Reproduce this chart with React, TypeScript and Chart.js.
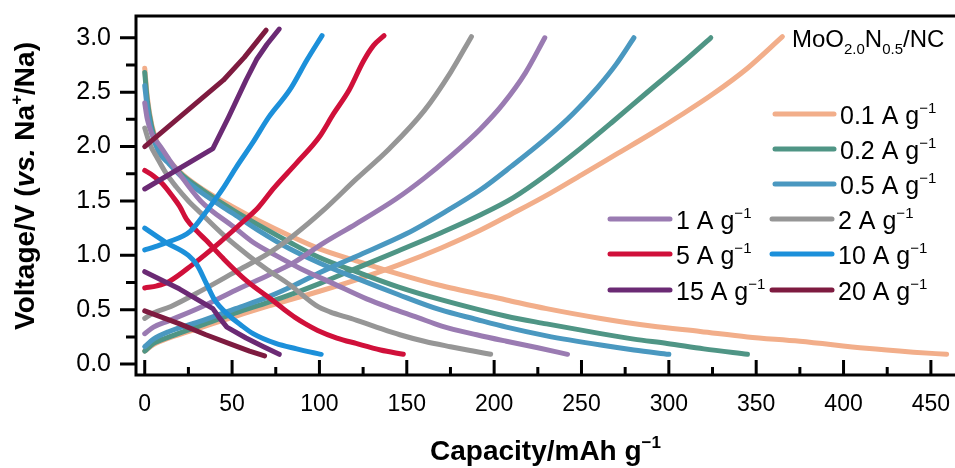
import React, { useEffect, useRef } from 'react';
import { Chart, registerables } from 'chart.js';

Chart.register(...registerables);

const FONT = "'Liberation Sans', Arial, sans-serif";

// ---- Data (capacity mAh/g, voltage V) ----
const cap01C = [0, 5, 14, 33, 52, 71, 85, 100, 121, 145, 170, 192, 210, 232, 250, 270, 290, 307, 325, 345, 365];
const v01C = [0.12, 0.18, 0.24, 0.34, 0.44, 0.535, 0.6, 0.67, 0.775, 0.91, 1.07, 1.23, 1.38, 1.57, 1.74, 1.93, 2.12, 2.29, 2.48, 2.72, 3.01];
const cap01D = [0, 1.5, 4, 8, 14, 22, 33, 51, 65, 83, 100, 121, 145, 170, 207, 230, 261, 290, 318, 345, 375, 413, 440, 459];
const v01D = [2.72, 2.45, 2.2, 2.0, 1.87, 1.74, 1.61, 1.44, 1.32, 1.18, 1.06, 0.95, 0.83, 0.72, 0.59, 0.51, 0.42, 0.35, 0.3, 0.25, 0.21, 0.145, 0.11, 0.09];

const cap02C = [0, 5, 14, 33, 52, 71, 87, 100, 121, 145, 170, 192, 211, 230, 250, 268, 287, 307, 324];
const v02C = [0.12, 0.19, 0.25, 0.36, 0.47, 0.57, 0.66, 0.74, 0.88, 1.04, 1.21, 1.37, 1.53, 1.74, 1.99, 2.23, 2.49, 2.76, 3.0];
const cap02D = [0, 1.5, 4, 8, 14, 22, 33, 51, 65, 83, 100, 121, 145, 170, 207, 230, 261, 280, 299, 320, 345];
const v02D = [2.68, 2.42, 2.18, 1.98, 1.86, 1.73, 1.6, 1.41, 1.28, 1.12, 0.98, 0.85, 0.71, 0.59, 0.44, 0.37, 0.28, 0.23, 0.19, 0.14, 0.09];

const cap05C = [0, 5, 14, 33, 52, 71, 85, 100, 121, 150, 172, 192, 210, 230, 245, 259, 270, 280];
const v05C = [0.16, 0.23, 0.3, 0.4, 0.51, 0.62, 0.72, 0.84, 0.99, 1.2, 1.4, 1.6, 1.82, 2.08, 2.3, 2.54, 2.76, 3.0];
const cap05D = [0, 1.5, 4, 8, 14, 22, 33, 51, 65, 83, 100, 121, 145, 169, 190, 207, 230, 261, 280, 300];
const v05D = [2.56, 2.35, 2.13, 1.95, 1.84, 1.71, 1.57, 1.38, 1.23, 1.06, 0.93, 0.79, 0.64, 0.5, 0.41, 0.34, 0.26, 0.175, 0.13, 0.09];

const cap1C = [0, 5, 14, 33, 52, 71, 85, 102, 121, 144, 160, 175, 192, 205, 218, 229];
const v1C = [0.28, 0.34, 0.4, 0.53, 0.68, 0.82, 0.93, 1.11, 1.29, 1.52, 1.71, 1.91, 2.16, 2.39, 2.68, 3.0];
const cap1D = [0, 1.5, 4, 9, 14, 18, 32, 51, 62, 75, 89, 108, 127, 140, 156, 170, 190, 207, 225, 242];
const v1D = [2.4, 2.25, 2.12, 2.0, 1.88, 1.79, 1.5, 1.26, 1.12, 1.0, 0.88, 0.74, 0.6, 0.52, 0.43, 0.35, 0.27, 0.21, 0.15, 0.09];

const cap2C = [0, 5, 15, 33, 52, 71, 85, 102, 121, 140, 160, 175, 187];
const v2C = [0.42, 0.47, 0.53, 0.68, 0.85, 1.02, 1.18, 1.41, 1.7, 1.98, 2.33, 2.68, 3.01];
const cap2D = [0, 3, 7, 12, 18, 25, 32, 47, 60, 70, 83, 98, 106, 118, 131, 146, 160, 175, 188, 198];
const v2D = [2.17, 2.02, 1.9, 1.76, 1.63, 1.5, 1.39, 1.16, 0.99, 0.87, 0.73, 0.54, 0.48, 0.42, 0.35, 0.27, 0.21, 0.16, 0.12, 0.09];

const cap5C = [0, 7, 14, 27, 43, 57, 65, 74, 87, 100, 108, 117, 125, 131, 137];
const v5C = [0.7, 0.72, 0.76, 0.91, 1.12, 1.32, 1.44, 1.62, 1.85, 2.09, 2.3, 2.52, 2.78, 2.93, 3.02];
const cap5D = [0, 5, 10, 16, 20, 24, 30, 35, 45, 58, 72, 80, 86, 92, 99, 110, 121, 135, 148];
const v5D = [1.78, 1.73, 1.66, 1.54, 1.45, 1.33, 1.22, 1.14, 0.97, 0.77, 0.6, 0.5, 0.43, 0.37, 0.31, 0.24, 0.19, 0.13, 0.09];

const cap10C = [0, 6, 13, 26, 36, 45, 52, 62, 71, 83, 93, 101.5];
const v10C = [1.05, 1.08, 1.12, 1.22, 1.42, 1.62, 1.8, 2.04, 2.27, 2.52, 2.8, 3.02];
const cap10D = [0, 12, 25, 30, 35, 40, 48, 55, 62, 75, 87, 95, 101];
const v10D = [1.25, 1.12, 1.0, 0.91, 0.75, 0.59, 0.45, 0.36, 0.28, 0.19, 0.14, 0.11, 0.09];

const cap15C = [0, 39, 48, 58, 64, 70, 77];
const v15C = [1.61, 1.98, 2.27, 2.61, 2.8, 2.94, 3.08];
const cap15D = [0, 20, 39, 43, 47, 58, 68, 77];
const v15D = [0.85, 0.69, 0.51, 0.42, 0.34, 0.24, 0.16, 0.09];

const cap20C = [0, 45, 57, 69.5];
const v20C = [2.0, 2.61, 2.82, 3.07];
const cap20D = [0, 10, 20, 35, 50, 60, 68.6];
const v20D = [0.49, 0.43, 0.37, 0.27, 0.18, 0.12, 0.075];

const rateLabels = ['0.1', '0.2', '0.5', '1', '2', '5', '10', '15', '20'];
const rateColors = ['#F2AE8A', '#4F9585', '#4A98C0', '#9A7BB2', '#969696', '#D0103A', '#1C90DA', '#6B2A74', '#7E1B40'];
const kinked = [false, false, false, false, false, false, false, true, true];

const xMajor = [0, 50, 100, 150, 200, 250, 300, 350, 400, 450];
const xMinor = [25, 75, 125, 175, 225, 275, 325, 375, 425];
const yMajor = [0, 0.5, 1.0, 1.5, 2.0, 2.5, 3.0];
const yMinor = [0.25, 0.75, 1.25, 1.75, 2.25, 2.75];

const curveSets: [number, number[], number[]][] = [
  [0, cap01C, v01C], [0, cap01D, v01D],
  [1, cap02C, v02C], [1, cap02D, v02D],
  [2, cap05C, v05C], [2, cap05D, v05D],
  [3, cap1C, v1C], [3, cap1D, v1D],
  [4, cap2C, v2C], [4, cap2D, v2D],
  [5, cap5C, v5C], [5, cap5D, v5D],
  [6, cap10C, v10C], [6, cap10D, v10D],
  [7, cap15C, v15C], [7, cap15D, v15D],
  [8, cap20C, v20C], [8, cap20D, v20D],
];

// legend layout: [rateIndex, lineX1, lineX2, y]
const legendSlots: [number, number, number, number][] = [
  [0, 775, 834, 114],
  [1, 775, 834, 149],
  [2, 775, 834, 184],
  [3, 610, 670, 219],
  [4, 772, 832, 219],
  [5, 610, 670, 254],
  [6, 772, 832, 254],
  [7, 610, 670, 290],
  [8, 772, 832, 290],
];

type Part = { t: string; size: number; bold?: boolean; italic?: boolean; dy?: number };

function fontOf(p: Part) {
  return `${p.italic ? 'italic ' : ''}${p.bold ? 'bold ' : ''}${p.size}px ${FONT}`;
}
function richWidth(ctx: CanvasRenderingContext2D, parts: Part[]) {
  let w = 0;
  for (const p of parts) { ctx.font = fontOf(p); w += ctx.measureText(p.t).width; }
  return w;
}
function drawRich(ctx: CanvasRenderingContext2D, x: number, y: number, parts: Part[]) {
  let cx = x;
  ctx.textBaseline = 'alphabetic';
  ctx.textAlign = 'left';
  for (const p of parts) {
    ctx.font = fontOf(p);
    ctx.fillText(p.t, cx, y + (p.dy || 0));
    cx += ctx.measureText(p.t).width;
  }
}

const decorPlugin = {
  id: 'decor',
  afterDraw(chart: any) {
    const { ctx, chartArea: ca, scales } = chart;
    const xs = scales.x, ys = scales.y;
    ctx.save();
    ctx.strokeStyle = '#000';
    ctx.fillStyle = '#000';
    ctx.lineWidth = 3;
    ctx.lineCap = 'butt';
    ctx.beginPath();
    ctx.moveTo(ca.left, ca.bottom + 1.5);
    ctx.lineTo(ca.left, ca.top);
    ctx.lineTo(ca.right, ca.top);
    ctx.moveTo(ca.left - 1.5, ca.bottom);
    ctx.lineTo(ca.right, ca.bottom);
    ctx.stroke();
    // x ticks (inward)
    ctx.beginPath();
    for (const v of xMajor) { const p = xs.getPixelForValue(v); ctx.moveTo(p, ca.bottom); ctx.lineTo(p, ca.bottom - 15); }
    for (const v of xMinor) { const p = xs.getPixelForValue(v); ctx.moveTo(p, ca.bottom); ctx.lineTo(p, ca.bottom - 8); }
    // y ticks (outward)
    for (const v of yMajor) { const p = ys.getPixelForValue(v); ctx.moveTo(ca.left, p); ctx.lineTo(ca.left - 16, p); }
    for (const v of yMinor) { const p = ys.getPixelForValue(v); ctx.moveTo(ca.left, p); ctx.lineTo(ca.left - 10, p); }
    ctx.stroke();

    // legend
    ctx.lineCap = 'round';
    ctx.lineWidth = 5;
    for (const [ri, x1, x2, yy] of legendSlots) {
      ctx.strokeStyle = rateColors[ri];
      ctx.beginPath(); ctx.moveTo(x1, yy); ctx.lineTo(x2, yy); ctx.stroke();
      ctx.fillStyle = '#000';
      drawRich(ctx, x2 + 6, yy + 10, [
        { t: `${rateLabels[ri]} A g`, size: 25 },
        { t: '\u22121', size: 15, dy: -11 },
      ]);
    }

    // sample annotation
    drawRich(ctx, 792, 47, [
      { t: 'MoO', size: 24 },
      { t: '2.0', size: 15, dy: 7 },
      { t: 'N', size: 24 },
      { t: '0.5', size: 15, dy: 7 },
      { t: '/NC', size: 24 },
    ]);

    // x title
    const xt: Part[] = [
      { t: 'Capacity/mAh g', size: 28, bold: true },
      { t: '\u22121', size: 17, bold: true, dy: -12 },
    ];
    const xw = richWidth(ctx, xt);
    drawRich(ctx, (ca.left + ca.right) / 2 - xw / 2, 460, xt);

    // y title
    const yt: Part[] = [
      { t: 'Voltage/V (', size: 28, bold: true },
      { t: 'vs.', size: 28, bold: true, italic: true },
      { t: ' Na', size: 28, bold: true },
      { t: '+', size: 17, bold: true, dy: -12 },
      { t: '/Na)', size: 28, bold: true },
    ];
    const yw = richWidth(ctx, yt);
    ctx.translate(34, 186);
    ctx.rotate(-Math.PI / 2);
    drawRich(ctx, -yw / 2, 0, yt);
    ctx.restore();
  },
};

export default function App() {
  const ref = useRef<HTMLCanvasElement | null>(null);
  useEffect(() => {
    if (!ref.current) return;
    const datasets = curveSets.map(([ri, c, v]) => ({
      label: rateLabels[ri],
      data: c.map((x, i) => ({ x, y: v[i] })),
      borderColor: rateColors[ri],
      backgroundColor: rateColors[ri],
      borderWidth: 5,
      pointRadius: 0,
      borderCapStyle: 'round' as const,
      borderJoinStyle: 'round' as const,
      cubicInterpolationMode: kinked[ri] ? 'default' : 'monotone',
      tension: kinked[ri] ? 0 : 0.4,
      fill: false,
      order: 10 - ri,
    }));
    const chart = new Chart(ref.current, {
      type: 'line',
      data: { datasets: datasets as any },
      plugins: [decorPlugin],
      options: {
        animation: false,
        responsive: false,
        maintainAspectRatio: false,
        layout: { padding: { top: 16, right: 0, left: 0, bottom: 0 } },
        plugins: { legend: { display: false }, tooltip: { enabled: false } },
        scales: {
          x: {
            type: 'linear',
            min: -5,
            max: 463.8,
            grid: { display: false, drawTicks: false },
            border: { display: false },
            afterFit: (s: any) => { s.height = 93; s.paddingLeft = 0; s.paddingRight = 0; s.paddingTop = 0; s.paddingBottom = 0; },
            afterBuildTicks: (s: any) => { s.ticks = xMajor.map((v) => ({ value: v })); },
            ticks: {
              padding: 16,
              color: '#000',
              font: { family: FONT, size: 23 },
              maxRotation: 0,
              autoSkip: false,
              callback: (v: any) => String(v),
            },
          },
          y: {
            type: 'linear',
            min: -0.1,
            max: 3.2,
            grid: { display: false, drawTicks: false },
            border: { display: false },
            afterFit: (s: any) => { s.width = 136; s.paddingTop = 0; s.paddingBottom = 0; s.paddingLeft = 0; s.paddingRight = 0; },
            afterBuildTicks: (s: any) => { s.ticks = yMajor.map((v) => ({ value: v })); },
            ticks: {
              padding: 25,
              color: '#000',
              font: { family: FONT, size: 25 },
              autoSkip: false,
              callback: (v: any) => Number(v).toFixed(1),
            },
          },
        },
      },
    });
    return () => chart.destroy();
  }, []);
  return (
    <div style={{ position: 'absolute', left: 0, top: 0, width: 955, height: 468, background: '#fff' }}>
      <canvas ref={ref} width={955} height={468} style={{ display: 'block', width: 955, height: 468 }} />
    </div>
  );
}
